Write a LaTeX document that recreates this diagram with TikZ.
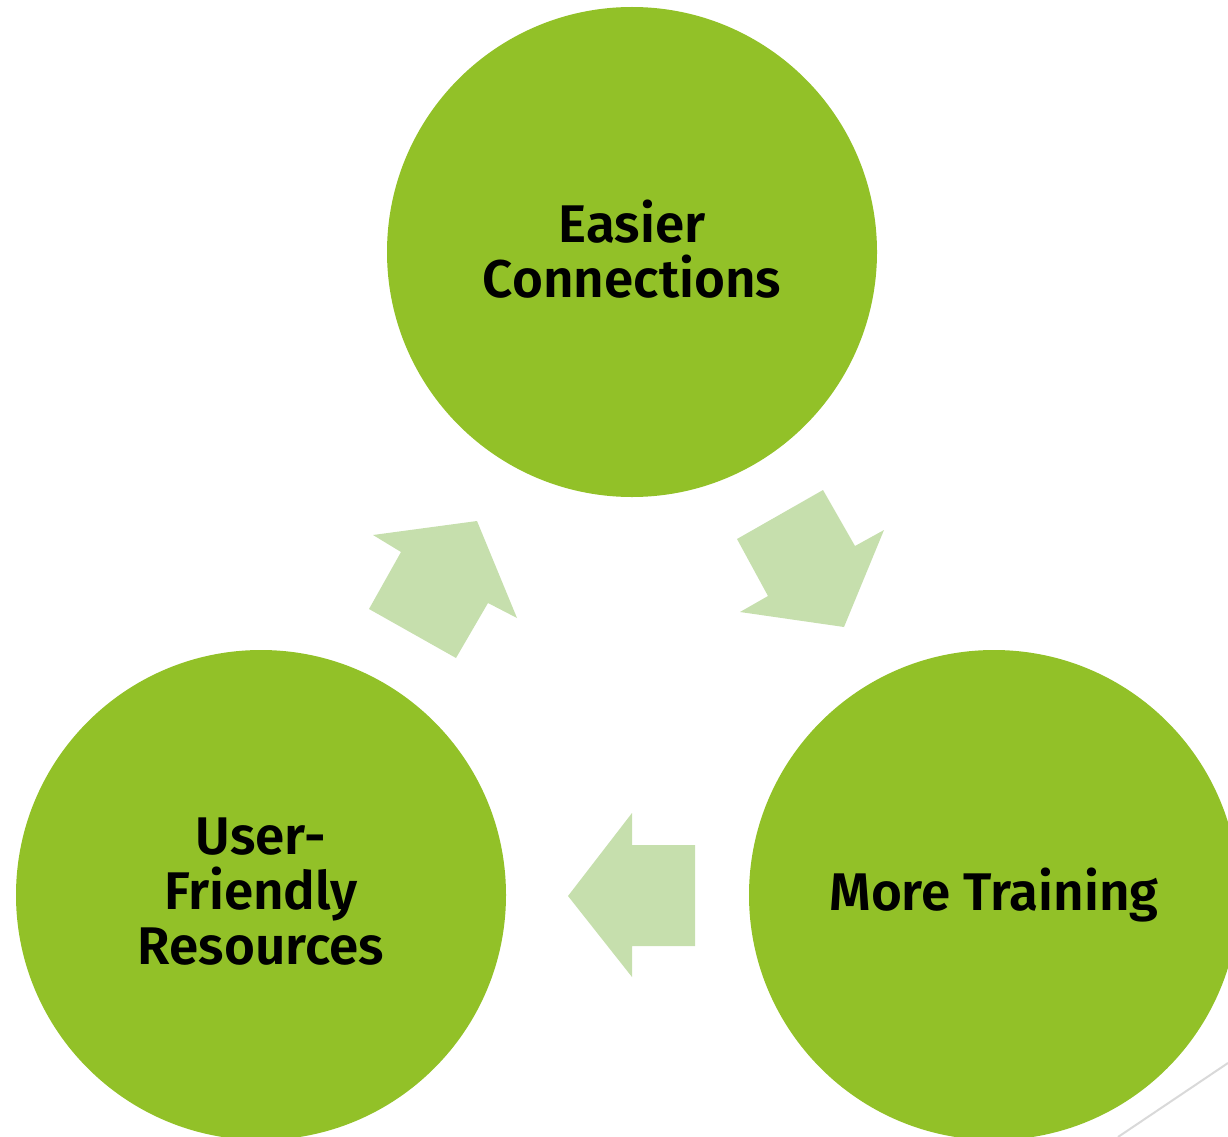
\documentclass[tikz,border=0pt]{standalone}
\usepackage{fontspec}
\setmainfont{Fira Sans}[BoldFont={Fira Sans SemiBold}]
\definecolor{cgreen}{HTML}{92C128}
\definecolor{agreen}{HTML}{C6DFAD}
\definecolor{lgray}{HTML}{D9D9D9}
\begin{document}
\begin{tikzpicture}[x=1pt,y=-1pt,
  bubble/.style={circle,fill=cgreen,minimum size=490pt,inner sep=0pt},
  bubbletext/.style={align=center,inner sep=0pt,
    font=\fontsize{53}{55}\selectfont\bfseries,text=black},
  blockarrow/.style={fill=agreen,draw=none}]
\useasboundingbox (0,0) rectangle (1228,1137);
\clip (0,0) rectangle (1228,1137);
\node[bubble] (top) at (632,252) {};
\node[bubble] (left) at (261,895) {};
\node[bubble] (right) at (994,895) {};
\node[bubbletext] (toptext) at ([yshift=3pt]top.center) {Easier\\Connections};
\node[bubbletext] (lefttext) at ([yshift=3pt]left.center) {User-\\Friendly\\Resources};
\node[bubbletext] (righttext) at (right.center) {More Training};
\fill[blockarrow] (373,535) -- (477,521) -- (517,618) -- (488,603) -- (456,658) -- (369,609) -- (401,552) -- cycle;
\fill[blockarrow] (823,490) -- (855,546) -- (884,530) -- (844,627) -- (740,612) -- (768,596) -- (737,539) -- cycle;
\fill[blockarrow] (632,813) -- (632,845) -- (695,845) -- (695,946) -- (632,946) -- (632,977) -- (568,896) -- cycle;
\draw[lgray,line width=2pt] (1118,1137) -- (1228,1063);
\end{tikzpicture}
\end{document}
